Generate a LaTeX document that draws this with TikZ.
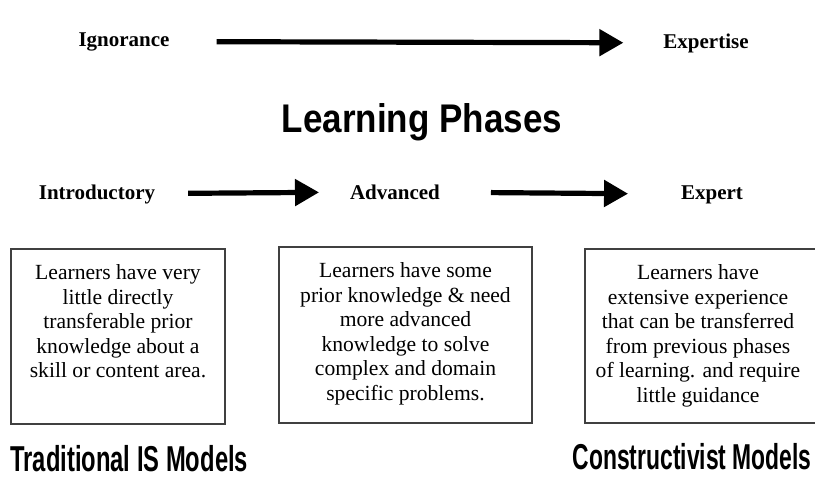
\documentclass[tikz,border=0pt]{standalone}
\usepackage{fontspec}
\setmainfont{Liberation Serif}
\setsansfont{Liberation Sans}
\usetikzlibrary{arrows.meta,positioning}

\begin{document}
\begin{tikzpicture}[
      x=0.5pt,y=-0.5pt,
      mybox/.style={
         draw=black!75,
         line width=0.8pt,
         rectangle,
         inner sep=0pt,
         minimum width=#1},
      mybox/.default=107pt,
      mytext/.style={
         align=center,
         inner sep=0pt,
         font=\fontsize{10.8}{12.3}\selectfont},
      myphase/.style={font=\fontsize{10.5}{12}\selectfont\bfseries,anchor=base},
      mymodel/.style={font=\sffamily\bfseries\fontsize{18}{20}\selectfont,inner sep=0pt},
      myarrow/.style={line width=2.6pt,-{Triangle[length=12pt,width=13pt]}}
      ]
      \useasboundingbox (0,0) rectangle (815,477);
      \clip (0,0) rectangle (815,477);

      % top scale
      \node[myphase] (ign) at (124,46) {Ignorance};
      \node[myphase] (exp) at (706,48) {Expertise};

      \node[font=\sffamily\bfseries\fontsize{20}{22}\selectfont,anchor=base,inner sep=0pt]
         (title) at (422,132) {\scalebox{0.875}[1]{Learning Phases}};

      % phases
      \node[myphase] (intro) at (97,199) {Introductory};
      \node[myphase] (adv) at (395,199) {Advanced};
      \node[myphase] (expert) at (712,199) {Expert};

      \foreach \i/\j/\s/\e in {% start node/end node/shorten start/shorten end
        ign/exp/20pt/16.5pt,
        intro/adv/13pt/12pt,
        adv/expert/22pt/23pt}
        \draw [myarrow,shorten <=\s,shorten >=\e] (\i) -- (\j);

      % boxes
      \node[mybox,minimum height=87.5pt] (b1) at (118,336.5) {};
      \node[mybox=126.5pt,minimum height=88pt] (b2) at (405.5,335) {};
      \node[mybox=125pt,minimum height=87pt] (b3) at (710,336) {};

      \node[mytext,anchor=north] (t1) at ([yshift=-8pt]b1.north)
         {Learners have very\\ little directly\\ transferable prior\\
          knowledge about a\\ skill or content area.};
      \node[mytext,anchor=north] (t2) at ([yshift=-8pt]b2.north)
         {Learners have some\\ prior knowledge \& need\\ more advanced\\
          knowledge to solve\\ complex and domain\\ specific problems.};
      \node[mytext,anchor=north] (t3) at ([xshift=-6pt,yshift=-8pt]b3.north)
         {Learners have\\ extensive experience\\ that can be transferred\\
          from previous phases\\ of learning. and require\\ little guidance};

      % models
      \node[mymodel,anchor=base west] (trad) at (10,471)
         {\scalebox{0.66}[1]{Traditional IS Models}};
      \node[mymodel,anchor=base east] (cons) at (812,469)
         {\scalebox{0.635}[1]{Constructivist Models}};
     \end{tikzpicture}
\end{document}
